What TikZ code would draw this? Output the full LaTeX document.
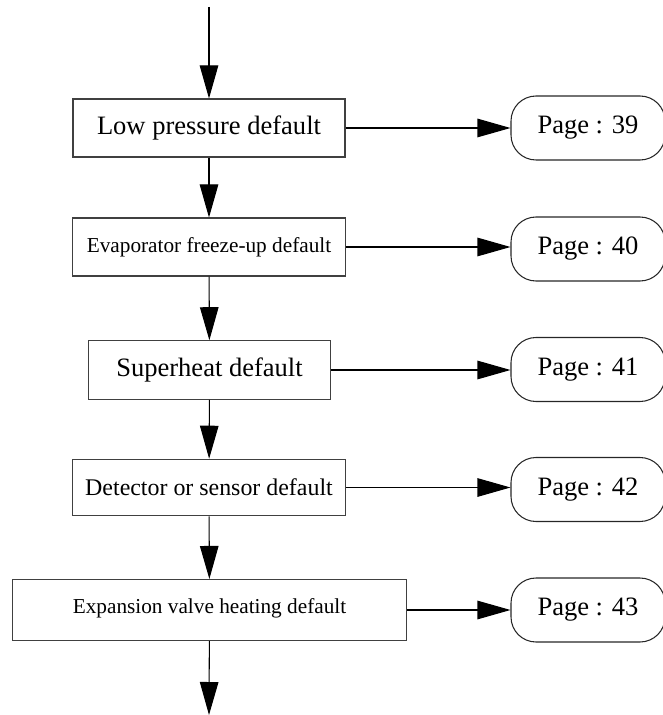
\documentclass[tikz,border=0pt]{standalone}
\usepackage{fontspec}
\setmainfont{Liberation Serif}
\usepackage{tikz}
\usetikzlibrary{arrows.meta}
\tikzset{>={Triangle[length=0.66cm,width=0.37cm]}}

\begin{document}
\begin{tikzpicture}[line width=0.6pt,
  fault/.style={draw=black!75,rectangle,inner sep=2pt,minimum height=1.16cm},
  pageref/.style={draw=black!85,rounded corners=0.5cm,minimum width=3.08cm,minimum height=1.28cm,font=\fontsize{15.1}{18}\selectfont}]
\useasboundingbox (0,0) rectangle (13.26,-14.30);
\coordinate (start) at (4.18,-0.14);
\coordinate (stop) at (4.18,-14.30);
\node[fault,minimum width=5.44cm,font=\fontsize{15.1}{18}\selectfont] (lowp) at (4.18,-2.56) {Low pressure default};
\node[fault,minimum width=5.45cm,font=\fontsize{12.1}{15}\selectfont] (evap) at (4.18,-4.94) {Evaporator freeze-up default};
\node[fault,minimum width=4.85cm,minimum height=1.17cm,font=\fontsize{15.1}{18}\selectfont] (sheat) at (4.19,-7.40) {Superheat default};
\node[fault,minimum width=5.45cm,minimum height=1.13cm,font=\fontsize{13.6}{16}\selectfont] (detect) at (4.18,-9.75) {Detector or sensor default};
\node[fault,minimum width=7.88cm,minimum height=1.22cm,font=\fontsize{12.1}{15}\selectfont] (valve) at (4.19,-12.20) {\raisebox{0.16cm}{Expansion valve heating default}};
\node[pageref] (p39) at (11.76,-2.56) {Page : 39};
\node[pageref] (p40) at (11.76,-4.98) {Page : 40};
\node[pageref] (p41) at (11.76,-7.39) {Page : 41};
\node[pageref] (p42) at (11.76,-9.79) {Page : 42};
\node[pageref] (p43) at (11.76,-12.20) {Page : 43};
% main chain
\draw[->] (start) -- (lowp);
\draw[->] (lowp) -- (evap);
\draw[->] (evap) -- (sheat);
\draw[->] (sheat) -- (detect);
\draw[->] (detect) -- (valve);
\draw[->] (valve) -- (stop);
% page links
\draw[->] (lowp) -- (lowp.east -| p39.west);
\draw[->] (evap) -- (evap.east -| p40.west);
\draw[->] (sheat) -- (sheat.east -| p41.west);
\draw[->] (detect) -- (detect.east -| p42.west);
\draw[->] (valve) -- (valve.east -| p43.west);
\end{tikzpicture}
\end{document}
